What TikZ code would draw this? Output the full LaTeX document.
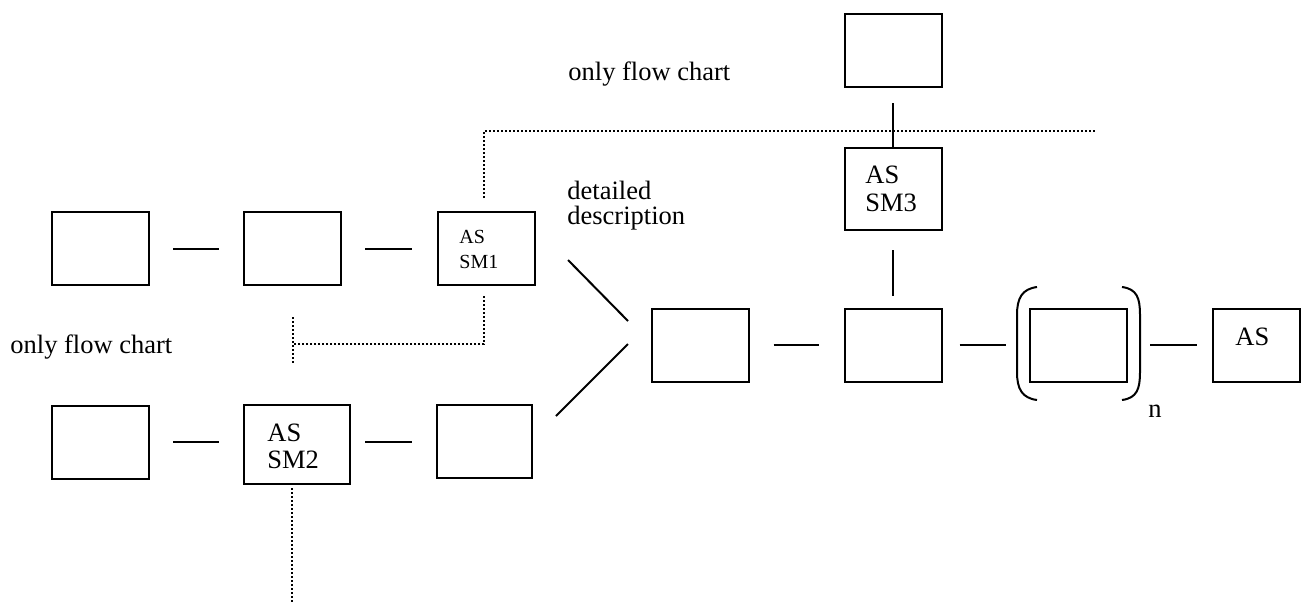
\documentclass[tikz,border=0pt]{standalone}
\usepackage{fontspec}
\setmainfont{Liberation Serif}
\begin{document}
\begin{tikzpicture}[x=0.5pt,y=-0.5pt,
  box/.style={draw, line width=1pt, minimum width=48.5pt, minimum height=36.5pt, inner sep=0pt},
  link/.style={line width=1pt},
  dots/.style={line width=0.9pt, dash pattern=on 0.9pt off 1.1pt},
  txt/.style={font=\fontsize{13.25}{16}\selectfont, inner sep=0pt, anchor=base west},
  small/.style={font=\fontsize{10}{12}\selectfont, inner sep=0pt, anchor=base west}]
\useasboundingbox (0,0) rectangle (1301,606);

% upper-left chain
\node[box] (b1)  at (100.5,248.5) {};
\node[box] (b2)  at (292.5,248.5) {};
\node[box] (sm1) at (486.5,248) {};
% lower-left chain
\node[box] (b4)  at (100.5,442) {};
\node[box, minimum width=53pt, minimum height=39.5pt] (sm2) at (297,444.5) {};
\node[box, minimum width=47.5pt] (b6) at (484.5,441.5) {};
% main chain
\node[box] (c1) at (700,345) {};
\node[box] (c2) at (893,345) {};
\node[box] (c3) at (1078.5,345) {};
\node[box, minimum width=43.5pt] (as) at (1256.5,345) {};
% upper branch
\node[box, minimum height=41pt] (sm3) at (893,189) {};
\node[box] (top) at (893,50.5) {};

% labels inside boxes
\node[small] (sm1a) at (459,243) {AS};
\node[small] (sm1b) at (459,268) {SM1};
\node[txt] (sm2a) at (267,441) {AS};
\node[txt] (sm2b) at (267,468) {SM2};
\node[txt] (sm3a) at (865,183) {AS};
\node[txt] (sm3b) at (865,211) {SM3};
\node[txt] (asa)  at (1235,345) {AS};

% free-standing labels
\node[txt] (lflow) at (10,353) {only flow chart};
\node[txt] (tflow) at (568,80) {only flow chart};
\node[txt] (det1) at (567,199) {detailed};
\node[txt] (det2) at (567,224) {description};
\node[txt] (nsub) at (1148,417) {n};

% horizontal connectors
\draw[link, shorten <=11.5pt, shorten >=12pt] (b1.east) -- (b2.west);
\draw[link, shorten <=11.5pt, shorten >=12.5pt] (b2.east) -- (b2.east -| sm1.west);
\draw[link, shorten <=11.5pt, shorten >=12pt] (b4.east) -- (b4.east -| sm2.west);
\draw[link, shorten <=7pt, shorten >=12pt] (b6.west -| sm2.east) -- (b6.west);
\draw[link, shorten <=12pt, shorten >=12.5pt] (c1.east) -- (c2.west);
\draw[link, shorten <=8.5pt, shorten >=11.5pt] (c2.east) -- (c3.west);
\draw[link, shorten <=11pt, shorten >=7.5pt] (c3.east) -- (as.west);

% vertical connectors
\draw[link, shorten <=6pt, shorten >=9.5pt] (c2.north) -- (sm3.south);
\draw[link, shorten <=7.5pt] (top.south) -- (sm3.north);

% converging diagonals
\coordinate (u1) at (568,260);
\coordinate (u2) at (628,321);
\coordinate (l1) at (556,416);
\coordinate (l2) at (628,344);
\draw[link] (u1) -- (u2);
\draw[link] (l1) -- (l2);

% repetition brackets
\draw[link] (1037,287) .. controls (1022,289) and (1017,298) .. (1017,315)
  -- (1017,372) .. controls (1017,389) and (1022,398) .. (1037,400);
\draw[link] (1122,287) .. controls (1137,289) and (1140,298) .. (1140,315)
  -- (1140,372) .. controls (1140,389) and (1137,398) .. (1122,400);

% dotted separators
\coordinate (tend) at (1095,131);
\draw[dots] (484,198) -- (484,131) -- (tend);
\coordinate (mjoin) at (293,344);
\draw[dots] (484,296) -- (484,344) -- (mjoin);
\draw[dots] (293,317) -- (293,363);
\draw[dots] (292,488) -- (292,603);
\end{tikzpicture}
\end{document}
